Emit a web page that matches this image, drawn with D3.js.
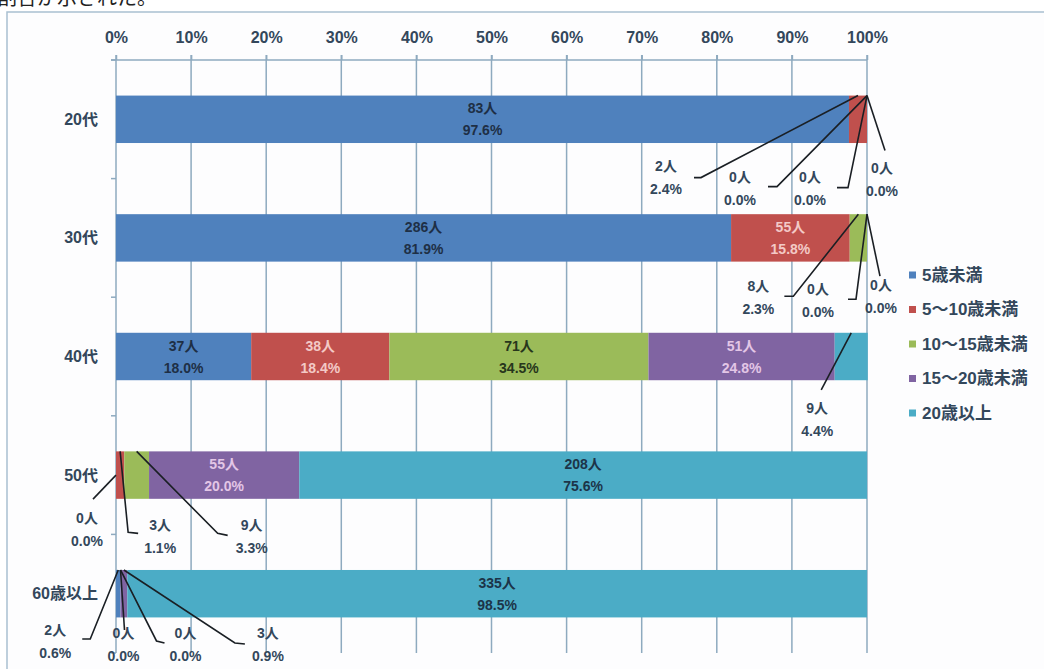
<!DOCTYPE html>
<html>
<head>
<meta charset="utf-8">
<script src="https://cdn.jsdelivr.net/npm/d3@7"></script>
<style>
  html, body { margin: 0; padding: 0; background: #ffffff; }
  svg { display: block; }
  text { font-family: "Liberation Sans", Arial, "Noto Sans CJK JP", sans-serif; font-weight: bold; }
  text.caption { font-family: "Noto Sans CJK JP", sans-serif; font-weight: normal; }
</style>
</head>
<body>
<svg id="chart" width="1044" height="669"></svg>
<script>
// Age groups (rows) and child-age brackets (stacked series)
const categories = ["20代", "30代", "40代", "50代", "60歳以上"];
const seriesNames = ["5歳未満", "5〜10歳未満", "10〜15歳未満", "15〜20歳未満", "20歳以上"];

// Head counts per row, in series order
const counts = [
  [83, 2, 0, 0, 0],
  [286, 55, 8, 0, 0],
  [37, 38, 71, 51, 9],
  [0, 3, 9, 55, 208],
  [2, 0, 0, 3, 335]
];

// Share of each row in percent, in series order
const percents = [
  [97.6, 2.4, 0.0, 0.0, 0.0],
  [81.9, 15.8, 2.3, 0.0, 0.0],
  [18.0, 18.4, 34.5, 24.8, 4.4],
  [0.0, 1.1, 3.3, 20.0, 75.6],
  [0.6, 0.0, 0.0, 0.9, 98.5]
];

const tickValues = [0, 10, 20, 30, 40, 50, 60, 70, 80, 90, 100];
const tickLabels = ["0%", "10%", "20%", "30%", "40%", "50%", "60%", "70%", "80%", "90%", "100%"];

// Styling
const seriesColors = ["#4f81bd", "#c0504d", "#9bbb59", "#8064a2", "#4bacc6"];
const insideTextColors = ["#1e2f45", "#f3c9c6", "#27361c", "#e3c6e6", "#1c3448"];
const textColor = "#33475b";
const gridColor = "#8eaabf";

// Segments whose labels sit outside the bar, with leader lines.
// [row, series, anchor edge, label dx, label dy, leader points relative to anchor]
const calloutLayout = [
  [0, 1, "top", -192, 70, [[-157, 82], [-164, 82]]],
  [0, 2, "top", -127, 81, [[-90, 91], [-99, 91]]],
  [0, 3, "top", -57, 81, [[-19, 92], [-30, 92]]],
  [0, 4, "top", 15, 72, [[18, 55]]],
  [1, 2, "top", -100, 72, [[-65, 82], [-74, 82]]],
  [1, 3, "top", -49, 75, [[-11, 85], [-19, 85]]],
  [1, 4, "top", 14, 71, [[13, 62]]],
  [2, 4, "top", -34, 75, [[-30, 57]]],
  [3, 0, "mid", -29, 43, [[-23, 24]]],
  [3, 1, "top", 40, 74, [[8, 81], [18, 82]]],
  [3, 2, "top", 115, 74, [[81, 82], [91, 84]]],
  [4, 0, "top", -63, 60, [[-28, 69], [-36, 69]]],
  [4, 1, "top", 3, 63, [[4, 60]]],
  [4, 2, "top", 65, 63, [[36, 71], [44, 73]]],
  [4, 3, "top", 144, 63, [[111, 73], [121, 74]]]
];

const svg = d3.select("#chart");

// Caption line running off the top of the page
svg.append("text")
  .attr("class", "caption")
  .attr("x", -3).attr("y", 5)
  .attr("font-size", 20)
  .attr("fill", "#222")
  .text("割合が示された。");

// Chart frame
svg.append("rect")
  .attr("x", 7).attr("y", 12)
  .attr("width", 1060).attr("height", 680)
  .attr("fill", "#fdfdfe")
  .attr("stroke", "#a9c0d1")
  .attr("stroke-width", 1.5);

const x = d3.scaleLinear().domain([0, 100]).range([116, 867]);
const y = d3.scaleBand().domain(categories).range([60, 653]).paddingInner(0.6).paddingOuter(0.3);
const step = y.step();
const top0 = y.range()[0];
const bottom0 = y.range()[1];

// Vertical gridlines
svg.append("g")
  .selectAll("line")
  .data(tickValues)
  .join("line")
  .attr("x1", d => x(d)).attr("x2", d => x(d))
  .attr("y1", top0 - 5).attr("y2", bottom0)
  .attr("stroke", gridColor)
  .attr("stroke-width", 1.5);

// Top value axis
const xAxis = d3.axisTop(x)
  .tickValues(tickValues)
  .tickFormat((d, i) => tickLabels[i])
  .tickSize(5)
  .tickPadding(12);
const gx = svg.append("g").attr("transform", `translate(0,${top0})`).call(xAxis);
gx.select(".domain").remove();
gx.selectAll(".tick line").attr("stroke", gridColor).attr("stroke-width", 1.5);
gx.selectAll(".tick text")
  .attr("fill", textColor)
  .attr("font-size", 16)
  .style("font-family", "'Liberation Sans', Arial, sans-serif")
  .style("font-weight", "bold");

svg.append("line")
  .attr("x1", x(0) - 5).attr("x2", x(100))
  .attr("y1", top0).attr("y2", top0)
  .attr("stroke", gridColor).attr("stroke-width", 1.5);

// Category axis: ticks on band boundaries, labels centred in bands
svg.append("g")
  .selectAll("line")
  .data(d3.range(categories.length + 1))
  .join("line")
  .attr("x1", x(0) - 5).attr("x2", x(0))
  .attr("y1", i => top0 + i * step).attr("y2", i => top0 + i * step)
  .attr("stroke", gridColor).attr("stroke-width", 1.5);

svg.append("g")
  .selectAll("text")
  .data(categories)
  .join("text")
  .attr("x", 98)
  .attr("y", d => y(d) + y.bandwidth() / 2)
  .attr("text-anchor", "end")
  .attr("dominant-baseline", "central")
  .attr("font-size", 16)
  .attr("fill", textColor)
  .text(d => d);

// Stack the rows
const rows = categories.map((c, r) => {
  let acc = 0;
  return seriesNames.map((s, k) => {
    const seg = { row: r, cat: c, series: k, x0: acc, x1: acc + percents[r][k], pct: percents[r][k], n: counts[r][k] };
    acc += percents[r][k];
    return seg;
  });
});
const segments = rows.flat();

svg.append("g")
  .selectAll("rect")
  .data(segments.filter(d => d.pct > 0))
  .join("rect")
  .attr("x", d => x(d.x0))
  .attr("y", d => y(d.cat))
  .attr("width", d => x(d.x1) - x(d.x0))
  .attr("height", y.bandwidth())
  .attr("fill", d => seriesColors[d.series]);

// Labels inside the wider segments
const calloutKeys = new Set(calloutLayout.map(c => c[0] + "-" + c[1]));
const inside = segments.filter(d => !calloutKeys.has(d.row + "-" + d.series));
const insideG = svg.append("g").selectAll("g").data(inside).join("g")
  .attr("transform", d => `translate(${(x(d.x0) + x(d.x1)) / 2},${y(d.cat) + y.bandwidth() / 2})`);
insideG.append("text")
  .attr("y", -11)
  .attr("text-anchor", "middle").attr("dominant-baseline", "central")
  .attr("font-size", 14)
  .attr("fill", d => insideTextColors[d.series])
  .text(d => d.n + "人");
insideG.append("text")
  .attr("y", 11)
  .attr("text-anchor", "middle").attr("dominant-baseline", "central")
  .attr("font-size", 14)
  .attr("fill", d => insideTextColors[d.series])
  .text(d => d.pct.toFixed(1) + "%");

// Callout labels with leader lines
const callouts = calloutLayout.map(([r, k, edge, dx, dy, pts]) => {
  const seg = rows[r][k];
  const ax = (x(seg.x0) + x(seg.x1)) / 2;
  const ay = edge === "top" ? y(seg.cat) : y(seg.cat) + y.bandwidth() / 2;
  return { seg, ax, ay, dx, dy, pts };
});

const line = d3.line();
svg.append("g")
  .selectAll("path")
  .data(callouts)
  .join("path")
  .attr("d", c => line([[c.ax, c.ay], ...c.pts.map(p => [c.ax + p[0], c.ay + p[1]])]))
  .attr("fill", "none")
  .attr("stroke", "#1a1f24")
  .attr("stroke-width", 1.6);

const cg = svg.append("g").selectAll("g").data(callouts).join("g")
  .attr("transform", c => `translate(${c.ax + c.dx},${c.ay + c.dy})`);
cg.append("text")
  .attr("y", 0)
  .attr("text-anchor", "middle").attr("dominant-baseline", "central")
  .attr("font-size", 14)
  .attr("fill", textColor)
  .text(c => c.seg.n + "人");
cg.append("text")
  .attr("y", 23)
  .attr("text-anchor", "middle").attr("dominant-baseline", "central")
  .attr("font-size", 14)
  .attr("fill", textColor)
  .text(c => c.seg.pct.toFixed(1) + "%");

// Legend
const legend = svg.append("g").selectAll("g").data(seriesNames).join("g")
  .attr("transform", (d, i) => `translate(909,${275 + i * 34.5})`);
legend.append("rect")
  .attr("x", 0).attr("y", -3.5)
  .attr("width", 7).attr("height", 7)
  .attr("fill", (d, i) => seriesColors[i]);
legend.append("text")
  .attr("x", 13).attr("y", 0)
  .attr("dominant-baseline", "central")
  .attr("font-size", 17)
  .attr("fill", textColor)
  .text(d => d);
</script>
</body>
</html>
